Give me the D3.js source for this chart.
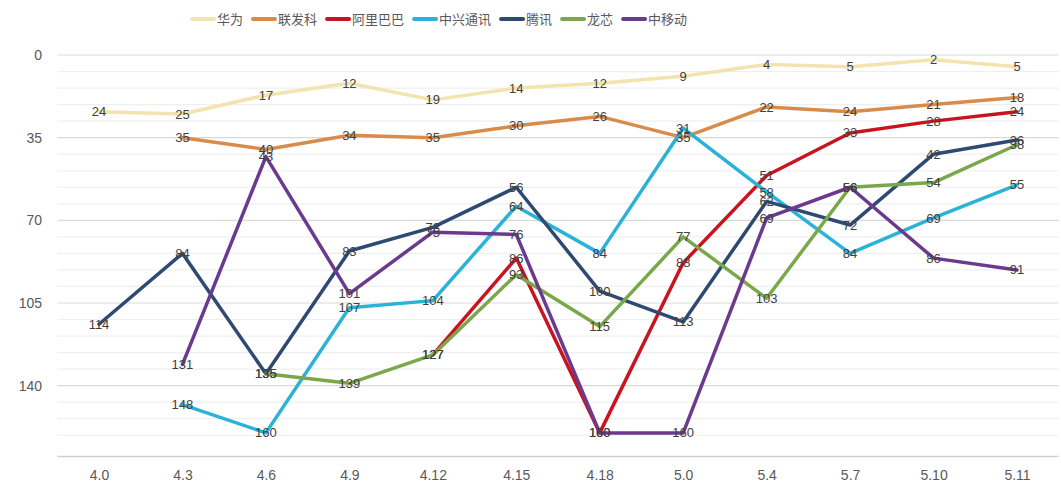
<!DOCTYPE html>
<html><head><meta charset="utf-8">
<script src="https://cdn.jsdelivr.net/npm/d3@7"></script>
<style>body{margin:0;background:#fff}svg{display:block}</style>
</head><body><svg id="c" width="1061" height="492"></svg>
<script>
const categories = ["4.0","4.3","4.6","4.9","4.12","4.15","4.18","5.0","5.4","5.7","5.10","5.11"];
const seriesNames = ["华为","联发科","阿里巴巴","中兴通讯","腾讯","龙芯","中移动"];
const huawei   = [24,25,17,12,19,14,12,9,4,5,2,5];
const mediatek = [null,35,40,34,35,30,26,35,22,24,21,18];
const alibaba  = [null,null,null,null,127,86,160,88,51,33,28,24];
const zte      = [null,148,160,107,104,64,84,31,58,84,69,55];
const tencent  = [114,84,135,83,73,56,100,113,62,72,42,36];
const loongson = [null,null,135,139,127,93,115,77,103,56,54,38];
const cmcc     = [null,131,43,101,75,76,160,160,69,56,86,91];
const yTicks = [0,35,70,105,140];
const colors = ["#F3E4AE","#D98C4A","#C9141F","#2BB2D8","#2E4A73","#79A84A","#6B3A8E"];
const seriesValues = [huawei,mediatek,alibaba,zte,tencent,loongson,cmcc];

const svg = d3.select("#c");
const x = d3.scalePoint().domain(categories).range([99, 1017]);
const y = d3.scaleLinear().domain([0,170]).range([55, 456.5]);

const minor = d3.range(0, 168, 7);
svg.append("g").selectAll("line").data(minor).join("line")
  .attr("x1",57.5).attr("x2",1058.5)
  .attr("y1",d=>y(d)).attr("y2",d=>y(d))
  .attr("stroke", d=> d%35===0 ? "#D9D9D9" : "#EFEFEF").attr("stroke-width",1.2);
svg.append("g").attr("transform",`translate(0,${y(170)})`)
  .call(d3.axisBottom(x).tickSize(0).tickPadding(14))
  .call(g=>{g.select(".domain").attr("stroke","#D0D0D0").attr("stroke-width",1.5).attr("d","M57.5,0H1058.5");
    g.selectAll("text").attr("font-family","Liberation Sans, Arial, sans-serif").attr("font-size",14).attr("fill","#595959");});
svg.append("g").attr("transform","translate(42,0)")
  .call(d3.axisLeft(y).tickValues(yTicks).tickSize(0).tickPadding(0))
  .call(g=>{g.select(".domain").remove();
    g.selectAll("text").attr("font-family","Liberation Sans, Arial, sans-serif").attr("font-size",14).attr("fill","#595959");});

const line = d3.line().defined(d=>d[1]!=null).x(d=>x(d[0])).y(d=>y(d[1]));
seriesValues.forEach((vals,i)=>{
  const pts = categories.map((c,j)=>[c,vals[j]]);
  svg.append("path").datum(pts).attr("d",line).attr("fill","none")
    .attr("stroke",colors[i]).attr("stroke-width",3.5).attr("stroke-linejoin","round").attr("stroke-linecap","round");
});
seriesValues.forEach((vals,i)=>{
  const pts = categories.map((c,j)=>[c,vals[j]]).filter(d=>d[1]!=null);
  svg.append("g").selectAll("text").data(pts).join("text")
    .attr("x",d=>x(d[0])).attr("y",d=>y(d[1])).attr("dy","0.35em")
    .attr("text-anchor","middle").attr("font-family","Liberation Sans, Arial, sans-serif")
    .attr("font-size",13).attr("fill","#404040").text(d=>d[1]);
});

const lg = svg.append("g");
let lx = 192;
seriesNames.forEach((n,i)=>{
  lg.append("line").attr("x1",lx).attr("x2",lx+22).attr("y1",19).attr("y2",19)
    .attr("stroke",colors[i]).attr("stroke-width",4).attr("stroke-linecap","round");
  const t = lg.append("text").attr("x",lx+25).attr("y",19).attr("dy","0.35em")
    .attr("font-family","Noto Sans CJK SC, sans-serif").attr("font-size",13).attr("fill","#595959").text(n);
  lx += 25 + t.node().getComputedTextLength() + 10;
});
</script></body></html>
